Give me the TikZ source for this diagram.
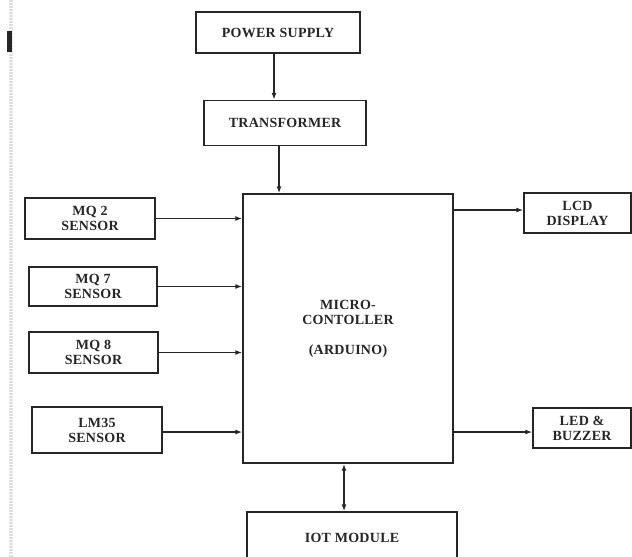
\documentclass[tikz,border=0pt]{standalone}
\usepackage{fontspec}
\setmainfont{Liberation Serif}[LetterSpace=2]
\usetikzlibrary{arrows.meta}
\begin{document}
\begin{tikzpicture}[x=1pt,y=-1pt,
  blk/.style={draw=black!85,line width=1.4pt,rectangle,inner sep=0pt,align=center,
    font=\fontsize{14}{15}\selectfont\bfseries,text=black!85},
  conn/.style={draw=black!85,line width=1.4pt,-{Latex[length=7pt,width=5pt]}},
  dconn/.style={draw=black!85,line width=1.4pt,{Latex[length=7pt,width=5pt]}-{Latex[length=7pt,width=5pt]}}]
\useasboundingbox (0,0) rectangle (632,557);
\fill[white] (0,0) rectangle (632,557);
% left margin artefacts
\draw[gray!25,line width=4pt,dash pattern=on 2pt off 1pt] (11,0) -- (11,557);
\fill[black!85] (7,31) rectangle (12,52);
% blocks
\node[blk,minimum width=164pt,minimum height=41pt] (power) at (278,32.5) {POWER SUPPLY};
\node[blk,minimum width=162pt,minimum height=45pt] (trans) at (285,123) {TRANSFORMER};
\node[blk,minimum width=210pt,minimum height=269pt] (mc) at (348,328.5) {MICRO-\\CONTOLLER\\[15pt](ARDUINO)};
\node[blk,minimum width=107pt,minimum height=40pt] (lcd) at (577.5,213) {LCD\\DISPLAY};
\node[blk,minimum width=98pt,minimum height=40pt] (led) at (582,428) {LED \&\\BUZZER};
\node[blk,minimum width=210pt,minimum height=52pt] (iot) at (352,538) {IOT MODULE};
\node[blk,minimum width=130pt,minimum height=41pt] (mq2) at (90,218.5) {MQ 2\\SENSOR};
\node[blk,minimum width=128pt,minimum height=39pt] (mq7) at (93,286.5) {MQ 7\\SENSOR};
\node[blk,minimum width=129pt,minimum height=41pt] (mq8) at (93.5,352.5) {MQ 8\\SENSOR};
\node[blk,minimum width=130pt,minimum height=46pt] (lm35) at (97,430) {LM35\\SENSOR};
% connectors
\draw[conn] ([xshift=-4pt]power.south) -- ([xshift=-4pt]power.south |- trans.north);
\draw[conn] ([xshift=-6pt]trans.south) -- ([xshift=-6pt]trans.south |- mc.north);
\draw[conn] (mq2.east) -- (mq2.east -| mc.west);
\draw[conn] (mq7.east) -- (mq7.east -| mc.west);
\draw[conn] (mq8.east) -- (mq8.east -| mc.west);
\draw[conn] ([yshift=-2pt]lm35.east) -- ([yshift=-2pt]lm35.east -| mc.west);
\draw[conn] ([yshift=3pt]lcd.west -| mc.east) -- ([yshift=3pt]lcd.west);
\draw[conn] ([yshift=-4pt]led.west -| mc.east) -- ([yshift=-4pt]led.west);
\draw[dconn] ([xshift=-4pt]mc.south) -- ([xshift=-4pt]mc.south |- iot.north);
\end{tikzpicture}
\end{document}
